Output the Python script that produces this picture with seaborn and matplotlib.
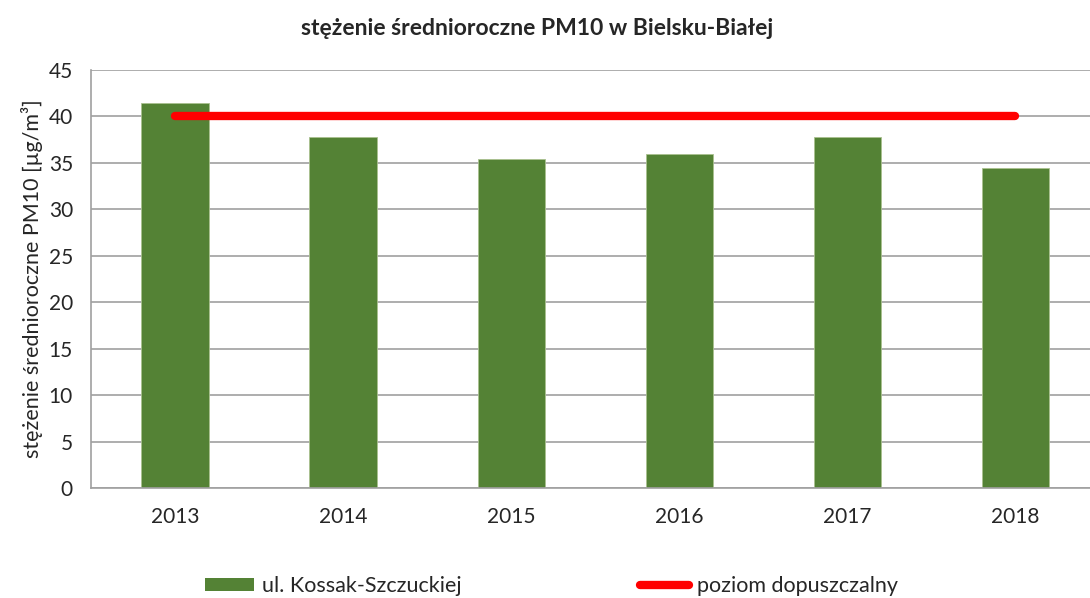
import numpy as np
import pandas as pd
import matplotlib
matplotlib.use("Agg")
import matplotlib.pyplot as plt
import seaborn as sns
from matplotlib.patches import Patch
from matplotlib.lines import Line2D

# data
years = ["2013", "2014", "2015", "2016", "2017", "2018"]
pm10_station = [41.4, 37.8, 35.4, 35.9, 37.8, 34.4]
limit_value = [40, 40, 40, 40, 40, 40]

station_label = "ul. Kossak-Szczuckiej"
limit_label = "poziom dopuszczalny"

BAR_GREEN = "#548235"
LIMIT_RED = "#ff0000"
GRID_GRAY = "#a0a0a0"

sns.set_theme(style="white")
plt.rcParams["font.family"] = ["Lato", "DejaVu Sans"]

df = pd.DataFrame({"rok": years, "pm10": pm10_station})

fig = plt.figure(figsize=(10.9, 5.98), dpi=100)
# plot area runs slightly past the right edge, like the original export
ax = fig.add_axes([0.0835, 0.184, 0.925, 0.699])

sns.barplot(data=df, x="rok", y="pm10", color=BAR_GREEN, width=0.4,
            saturation=1, edgecolor="#a9c08f", linewidth=0.6, ax=ax, zorder=2)
ax.plot(np.arange(len(years)), limit_value, color=LIMIT_RED, lw=6,
        solid_capstyle="round", zorder=3)

ax.set_xlim(-0.5, 5.5)
ax.set_ylim(0, 45)
ax.set_yticks(np.arange(0, 46, 5))
ax.yaxis.grid(True, color=GRID_GRAY, lw=1.2, zorder=0)
ax.set_axisbelow(True)

for side in ["top", "right"]:
    ax.spines[side].set_visible(False)
for side in ["left", "bottom"]:
    ax.spines[side].set_color(GRID_GRAY)
    ax.spines[side].set_linewidth(1.2)

# tick marks between categories, as in the original
ax.set_xticks(np.arange(-0.5, 6, 1), minor=True)
ax.tick_params(axis="x", which="major", length=0, labelsize=15, pad=14)
ax.tick_params(axis="x", which="minor", length=7, width=1.2,
               color=GRID_GRAY, direction="out")
ax.tick_params(axis="y", length=7, width=1.2, color=GRID_GRAY,
               direction="out", labelsize=15, pad=6)

ax.set_xlabel("")
ax.set_ylabel("stężenie średnioroczne PM10 [µg/m³]", fontsize=15.5, labelpad=4)

fig.suptitle("stężenie średnioroczne PM10 w Bielsku-Białej", fontsize=16.5,
             fontweight="bold", x=0.493, y=0.953, va="center")

# legend sits right at the bottom edge
fig.legend(handles=[Patch(facecolor=BAR_GREEN, edgecolor="none")],
           labels=[station_label], loc="center left",
           bbox_to_anchor=(0.188, 0.02), frameon=False, fontsize=15.5,
           handlelength=2.3, handleheight=0.6, handletextpad=0.33,
           borderaxespad=0, borderpad=0)
fig.legend(handles=[Line2D([], [], color=LIMIT_RED, lw=6,
                           solid_capstyle="round")],
           labels=[limit_label], loc="center left",
           bbox_to_anchor=(0.587, 0.02), frameon=False, fontsize=15.5,
           handlelength=2.28, handletextpad=0.37,
           borderaxespad=0, borderpad=0)

fig.savefig("out.png", dpi=100)
